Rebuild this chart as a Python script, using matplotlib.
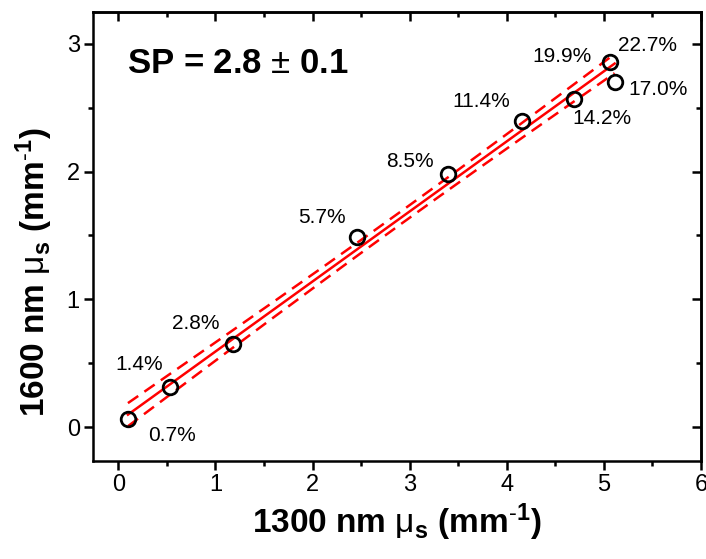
import numpy as np
import matplotlib
matplotlib.use("Agg")
import matplotlib.pyplot as plt
from matplotlib.ticker import MultipleLocator

plt.rcParams['font.family'] = ['Liberation Sans', 'DejaVu Sans']
plt.rcParams['mathtext.fontset'] = 'custom'
plt.rcParams['mathtext.rm'] = 'Liberation Sans'
plt.rcParams['mathtext.bf'] = 'Liberation Sans:bold'
plt.rcParams['mathtext.it'] = 'Liberation Sans:italic'

# Data
mu_1300 = [0.10, 0.53, 1.18, 2.46, 3.39, 4.16, 4.69, 5.06, 5.11]
mu_1600 = [0.06, 0.31, 0.65, 1.49, 1.98, 2.40, 2.57, 2.86, 2.70]
labels = ['0.7%', '1.4%', '2.8%', '5.7%', '8.5%', '11.4%', '14.2%', '19.9%', '17.0%']
label_x = [0.55, 0.22, 0.80, 2.10, 3.00, 3.74, 4.98, 4.57, 5.56]
label_y = [-0.07, 0.49, 0.81, 1.64, 2.08, 2.55, 2.42, 2.90, 2.64]
extra_label = '22.7%'
extra_xy = [5.45, 2.99]

x = np.array(mu_1300)
y = np.array(mu_1600)

# Linear fit with confidence band
n = len(x)
slope, intercept = np.polyfit(x, y, 1)
resid = y - (slope * x + intercept)
s = np.sqrt(np.sum(resid ** 2) / (n - 2))
sxx = np.sum((x - x.mean()) ** 2)
t = 1.75
xf = np.linspace(x.min(), x.max(), 200)
yf = slope * xf + intercept
band = t * s * np.sqrt(1.0 / n + (xf - x.mean()) ** 2 / sxx)

fig = plt.figure(figsize=(7.06, 5.59), dpi=100)
ax = fig.add_axes([0.1317, 0.1753, 0.8613, 0.8032])

red = '#ff0000'
ax.plot(xf, yf, color=red, lw=1.8, zorder=2)
ax.plot(xf, yf + band, color=red, lw=1.8, ls=(0, (5, 3)), zorder=2)
ax.plot(xf, yf - band, color=red, lw=1.8, ls=(0, (5, 3)), zorder=2)
ax.plot(x, y, ls='none', marker='o', ms=10.5, mfc='none', mec='black', mew=2.0, zorder=3)

for lab, lx, ly in zip(labels, label_x, label_y):
    ax.text(lx, ly, lab, fontsize=15, ha='center', va='center')
ax.text(extra_xy[0], extra_xy[1], extra_label, fontsize=15, ha='center', va='center')

ax.text(0.056, 0.886, r'SP = 2.8 $\pm$ 0.1', transform=ax.transAxes,
        fontsize=25, fontweight='bold', ha='left', va='center')

ax.set_xlim(-0.26, 6.0)
ax.set_ylim(-0.266, 3.25)
ax.xaxis.set_major_locator(MultipleLocator(1))
ax.xaxis.set_minor_locator(MultipleLocator(0.5))
ax.yaxis.set_major_locator(MultipleLocator(1))
ax.yaxis.set_minor_locator(MultipleLocator(0.5))

for sp in ax.spines.values():
    sp.set_linewidth(1.8)

ax.tick_params(which='both', direction='out', width=1.8, labelsize=17, pad=3)
ax.tick_params(which='major', length=6.5)
ax.tick_params(which='minor', length=3.5)

# top/right inward ticks
secx = ax.secondary_xaxis('top')
secx.xaxis.set_major_locator(MultipleLocator(1))
secx.xaxis.set_minor_locator(MultipleLocator(0.5))
secx.tick_params(which='both', direction='in', width=1.8, labeltop=False)
secx.tick_params(which='major', length=6.5)
secx.tick_params(which='minor', length=3.5)
secx.spines['top'].set_linewidth(1.8)
secy = ax.secondary_yaxis('right')
secy.yaxis.set_major_locator(MultipleLocator(1))
secy.yaxis.set_minor_locator(MultipleLocator(0.5))
secy.tick_params(which='both', direction='in', width=1.8, labelright=False)
secy.tick_params(which='major', length=6.5)
secy.tick_params(which='minor', length=3.5)
secy.spines['right'].set_linewidth(1.8)

ax.set_xlabel(r'1300 nm $\mathrm{\mu}_\mathbf{s}$ (mm$^{\mathbf{\text{-}1}}$)', fontsize=24, fontweight='bold', labelpad=4)
ax.set_ylabel(r'1600 nm $\mathrm{\mu}_\mathbf{s}$ (mm$^{\mathbf{\text{-}1}}$)', fontsize=24, fontweight='bold')
ax.yaxis.set_label_coords(-0.062, 0.42)

fig.savefig('out.png', dpi=100)
